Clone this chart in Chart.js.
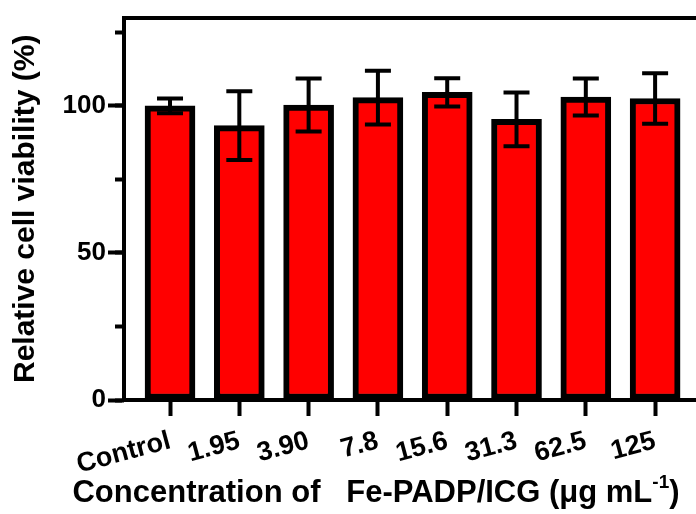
<!DOCTYPE html>
<html>
<head>
<meta charset="utf-8">
<script src="https://cdn.jsdelivr.net/npm/chart.js@4"></script>
<style>
  body { margin: 0; background: #fff; }
  #wrap { width: 696px; height: 514px; }
</style>
</head>
<body>
<div id="wrap"><canvas id="viabilityChart" width="696" height="514"></canvas></div>
<script>
const categories = ['Control', '1.95', '3.90', '7.8', '15.6', '31.3', '62.5', '125'];
const viability = [100.0, 93.3, 100.3, 102.8, 104.6, 95.4, 103.0, 102.5];
const errors = [2.5, 11.7, 9.0, 9.1, 4.8, 9.1, 6.3, 8.6];
const yMajorTicks = [0, 50, 100];
const yMinorTicks = [0, 25, 50, 75, 100, 125];

const xMin = -0.664, xMax = 7.59;
const black = '#000';

// error bars (mean +/- SD) drawn through the chart's scales
const errorBars = {
    id: 'errorBars',
    afterDatasetsDraw(chart) {
        const {ctx, scales: {x, y}} = chart;
        ctx.save();
        ctx.strokeStyle = black;
        ctx.lineWidth = 4;
        viability.forEach((v, i) => {
            const px = x.getPixelForValue(i);
            const top = y.getPixelForValue(v + errors[i]);
            const bot = y.getPixelForValue(v - errors[i]);
            ctx.beginPath();
            ctx.moveTo(px, top); ctx.lineTo(px, bot);
            ctx.moveTo(px - 13, top); ctx.lineTo(px + 13, top);
            ctx.moveTo(px - 13, bot); ctx.lineTo(px + 13, bot);
            ctx.stroke();
        });
        ctx.restore();
    }
};

// x title with superscript unit
const xTitle = {
    id: 'xTitle',
    afterDraw(chart) {
        const ctx = chart.ctx;
        const main = 'Concentration of   Fe-PADP/ICG (μg mL';
        const sup = '-1';
        const tail = ')';
        const big = 'bold 31px "Liberation Sans", Arial, sans-serif';
        const small = 'bold 19px "Liberation Sans", Arial, sans-serif';
        ctx.save();
        ctx.fillStyle = black;
        ctx.textBaseline = 'alphabetic';
        ctx.font = big;
        const w1 = ctx.measureText(main).width;
        const w3 = ctx.measureText(tail).width;
        ctx.font = small;
        const w2 = ctx.measureText(sup).width;
        let cx = 376 - (w1 + w2 + w3) / 2;
        const base = 502;
        ctx.font = big;
        ctx.fillText(main, cx, base);
        cx += w1;
        ctx.font = small;
        ctx.fillText(sup, cx, base - 14);
        cx += w2;
        ctx.font = big;
        ctx.fillText(tail, cx, base);
        ctx.restore();
    }
};

const ctx = document.getElementById('viabilityChart').getContext('2d');
const viabilityChart = new Chart(ctx, {
    type: 'bar',
    data: {
        datasets: [{
            label: 'Relative cell viability',
            data: viability.map((v, i) => ({x: i, y: v})),
            backgroundColor: '#ff0000',
            borderColor: black,
            borderWidth: 6,
            borderSkipped: false,
            barThickness: 50
        }]
    },
    options: {
        responsive: false,
        animation: false,
        devicePixelRatio: 1,
        layout: {padding: {top: 14, left: 0, right: 0, bottom: 0}},
        plugins: {
            legend: {display: false},
            tooltip: {enabled: false}
        },
        scales: {
            x: {
                type: 'linear',
                min: xMin,
                max: xMax,
                offset: false,
                afterBuildTicks: s => { s.ticks = categories.map((c, i) => ({value: i})); },
                afterFit: s => { s.height = 114; },
                grid: {drawOnChartArea: false, offset: false, tickLength: 16, tickWidth: 4, color: black},
                border: {width: 4, color: black},
                ticks: {
                    autoSkip: false,
                    minRotation: 15,
                    maxRotation: 15,
                    padding: 9,
                    color: black,
                    font: {family: '"Liberation Sans", Arial, sans-serif', size: 27, weight: 'bold'},
                    callback: v => categories[v]
                }
            },
            xTop: {
                type: 'linear',
                position: 'top',
                min: xMin,
                max: xMax,
                afterFit: s => { s.height = 0; },
                grid: {drawOnChartArea: false, drawTicks: false},
                border: {width: 4, color: black},
                ticks: {display: false}
            },
            y: {
                min: 0,
                max: 130,
                weight: 1,
                afterBuildTicks: s => { s.ticks = yMajorTicks.map(v => ({value: v})); },
                afterFit: s => { s.width = 124; },
                grid: {drawOnChartArea: false, tickLength: 16, tickWidth: 4, color: black},
                border: {width: 4, color: black},
                ticks: {
                    padding: 2,
                    color: black,
                    font: {family: '"Liberation Sans", Arial, sans-serif', size: 26, weight: 'bold'}
                },
                title: {
                    display: true,
                    text: 'Relative cell viability (%)',
                    color: black,
                    padding: {top: 8, bottom: 0},
                    font: {family: '"Liberation Sans", Arial, sans-serif', size: 30, weight: 'bold'}
                }
            },
            y2: {
                min: 0,
                max: 130,
                position: 'left',
                weight: 0,
                afterBuildTicks: s => { s.ticks = yMinorTicks.map(v => ({value: v})); },
                afterFit: s => { s.width = 0; },
                grid: {drawOnChartArea: false, tickLength: 9, tickWidth: 4, color: black},
                border: {display: false},
                ticks: {display: false}
            }
        }
    },
    plugins: [errorBars, xTitle]
});
</script>
</body>
</html>
